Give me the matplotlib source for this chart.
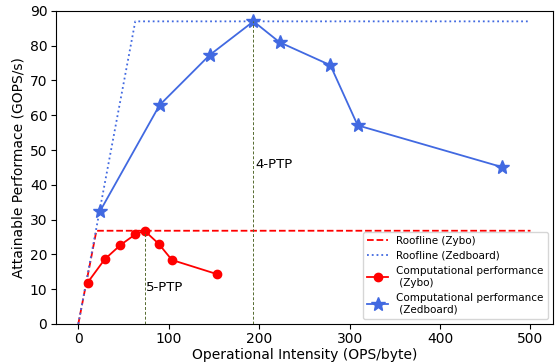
import numpy as np
import matplotlib
matplotlib.use("Agg")
import matplotlib.pyplot as plt

# roofline corners (x = OPS/byte, y = GOPS/s)
zybo_roof_x = [0, 20, 500]
zybo_roof_y = [0, 26.8, 26.8]
zed_roof_x = [0, 63, 500]
zed_roof_y = [0, 87.0, 87.0]

# measured points
zybo_x = [10.3, 29.2, 46.6, 63.2, 73.2, 88.7, 103.5, 153.7]
zybo_y = [11.9, 18.6, 22.7, 25.8, 26.8, 23.1, 18.4, 14.3]
zed_x = [24.4, 89.8, 145.2, 193.7, 222.5, 278.7, 308.9, 468.6]
zed_y = [32.6, 62.9, 77.3, 87.0, 81.0, 74.4, 57.1, 45.1]

# best configs
ptp_labels = ["5-PTP", "4-PTP"]
ptp_x = [73.2, 193.7]
ptp_y = [26.8, 87.0]
ptp_text_y = [8.5, 44]

fig, ax = plt.subplots(figsize=(5.57, 3.64), dpi=100)

ax.plot(zybo_roof_x, zybo_roof_y, '--', color='red', lw=1.3, label='Roofline (Zybo)')
ax.plot(zed_roof_x, zed_roof_y, ':', color='royalblue', lw=1.3, label='Roofline (Zedboard)')
ax.plot(zybo_x, zybo_y, '-o', color='red', lw=1.3, ms=6,
        label='Computational performance\n (Zybo)')
ax.plot(zed_x, zed_y, '-*', color='royalblue', lw=1.3, ms=10,
        label='Computational performance\n (Zedboard)')

for lbl, px, py, ty in zip(ptp_labels, ptp_x, ptp_y, ptp_text_y):
    ax.vlines(px, 0, py, colors='darkolivegreen', linestyles=(0, (3, 2)), lw=0.7)
    ax.text(px + 2, ty, lbl, fontsize=9.5, va='bottom')

ax.set_ylim(0, 90)
ax.set_yticks(np.arange(0, 91, 10))
ax.set_xticks(np.arange(0, 501, 100))
ax.tick_params(labelsize=10, pad=2.5)
ax.set_xlabel('Operational Intensity (OPS/byte)', fontsize=10, labelpad=1)
ax.set_ylabel('Attainable Performace (GOPS/s)', fontsize=10, labelpad=3)
ax.legend(loc='lower right', fontsize=7.5)

fig.subplots_adjust(left=0.1, right=0.993, top=0.97, bottom=0.11)
fig.savefig('out.png', dpi=100)
